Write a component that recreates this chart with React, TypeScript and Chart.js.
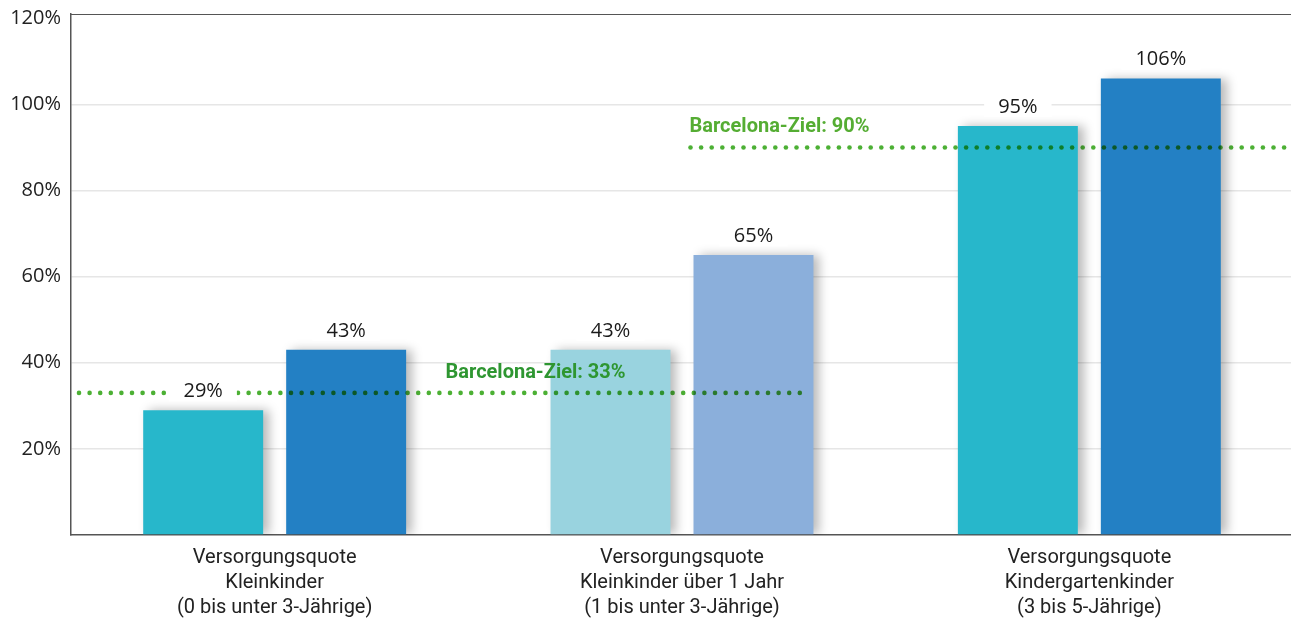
import { useEffect, useRef } from 'react';
import { Chart, registerables } from 'chart.js';
Chart.register(...registerables);

const categories = [
  ['Versorgungsquote', 'Kleinkinder', '(0 bis unter 3-Jährige)'],
  ['Versorgungsquote', 'Kleinkinder über 1 Jahr', '(1 bis unter 3-Jährige)'],
  ['Versorgungsquote', 'Kindergartenkinder', '(3 bis 5-Jährige)'],
];
const seriesA = [29, 43, 95];
const seriesB = [43, 65, 106];
const seriesAColors = ['#27b7cb', '#99d3df', '#27b7cb'];
const seriesBColors = ['#2380c4', '#8bafdb', '#2380c4'];
const yTickValues = [0, 20, 40, 60, 80, 100, 120];
const targets = [33, 90];
const targetLabels = ['Barcelona-Ziel: 33%', 'Barcelona-Ziel: 90%'];
const targetColors = ['#2e9631', '#55ad33'];

const NUM_FONT = '"Open Sans", sans-serif';
const CAT_FONT = 'Roboto, sans-serif';

function drawDots(ctx: CanvasRenderingContext2D, x0: number, x1: number, y: number) {
  ctx.save();
  ctx.globalCompositeOperation = 'multiply';
  ctx.fillStyle = '#4cb034';
  for (let x = x0; x <= x1; x += 10.6) {
    ctx.beginPath();
    ctx.arc(x, y, 2.3, 0, Math.PI * 2);
    ctx.fill();
  }
  ctx.restore();
}

const shadowPlugin = {
  id: 'barShadow',
  beforeDatasetsDraw(chart: any) {
    const ctx = chart.ctx;
    ctx.save();
    ctx.shadowColor = 'rgba(0,0,0,0.28)';
    ctx.shadowBlur = 10;
    ctx.shadowOffsetX = 6;
    ctx.shadowOffsetY = 0;
  },
  afterDatasetsDraw(chart: any) {
    chart.ctx.restore();
  },
};

const overlayPlugin = {
  id: 'overlay',
  afterDraw(chart: any) {
    const ctx: CanvasRenderingContext2D = chart.ctx;
    const y = chart.scales.y;
    const area = chart.chartArea;

    // top frame line
    ctx.save();
    ctx.strokeStyle = '#555555';
    ctx.lineWidth = 1.2;
    ctx.beginPath();
    ctx.moveTo(area.left, area.top + 0.5);
    ctx.lineTo(area.right, area.top + 0.5);
    ctx.stroke();
    ctx.restore();

    const metaA = chart.getDatasetMeta(0);
    const metaB = chart.getDatasetMeta(1);
    const refBar = metaB.data[1];
    const refLeft = refBar.x - refBar.width / 2;
    const refRight = refBar.x + refBar.width / 2;
    const y33 = y.getPixelForValue(targets[0]);
    const y90 = y.getPixelForValue(targets[1]);
    drawDots(ctx, area.left + 8, refRight - 6, y33);
    drawDots(ctx, refLeft - 3, 1286, y90);

    ctx.save();
    ctx.font = `20px ${NUM_FONT}`;
    ctx.textAlign = 'center';
    ctx.textBaseline = 'middle';
    const metas = [
      [metaA, seriesA],
      [metaB, seriesB],
    ];
    metas.forEach(([meta, vals]: any) => {
      meta.data.forEach((bar: any, i: number) => {
        const txt = vals[i] + '%';
        const ty = bar.y - 19;
        const w = ctx.measureText(txt).width;
        ctx.fillStyle = '#ffffff';
        ctx.fillRect(bar.x - w / 2 - 14, ty - 10, w + 28, 20);
        ctx.fillStyle = '#1a1a1a';
        ctx.fillText(txt, bar.x, ty);
      });
    });
    ctx.restore();

    ctx.save();
    ctx.font = `bold 20px ${CAT_FONT}`;
    ctx.textAlign = 'left';
    ctx.textBaseline = 'middle';
    const a0 = metaA.data[1];
    ctx.fillStyle = targetColors[0];
    ctx.fillText(targetLabels[0], a0.x - a0.width / 2 - 105, y33 - 20);
    ctx.fillStyle = targetColors[1];
    ctx.fillText(targetLabels[1], refLeft - 4, y90 - 20);
    ctx.restore();
  },
};

export default function App() {
  const ref = useRef<HTMLCanvasElement>(null);
  useEffect(() => {
    if (!ref.current) return;
    const chart = new Chart(ref.current, {
      type: 'bar',
      data: {
        labels: categories,
        datasets: [
          { data: seriesA, backgroundColor: seriesAColors, categoryPercentage: 0.702, barPercentage: 0.839 },
          { data: seriesB, backgroundColor: seriesBColors, categoryPercentage: 0.702, barPercentage: 0.839 },
        ],
      },
      options: {
        animation: false,
        responsive: true,
        maintainAspectRatio: false,
        layout: { padding: { left: 0, top: 14, right: 0, bottom: 0 } },
        plugins: { legend: { display: false }, tooltip: { enabled: false } },
        scales: {
          x: {
            grid: { display: false, drawTicks: false },
            border: { display: true, color: '#555555', width: 1.5 },
            ticks: { color: '#222222', font: { family: CAT_FONT, size: 20, lineHeight: 1.23 }, padding: 11, maxRotation: 0 },
            afterFit: (s: any) => { s.height = 84; s.paddingLeft = 0; s.paddingRight = 0; },
          },
          y: {
            min: 0,
            max: 121,
            afterBuildTicks: (s: any) => { s.ticks = yTickValues.map((v) => ({ value: v })); },
            ticks: {
              color: '#222222',
              padding: 10,
              font: { family: NUM_FONT, size: 20 },
              callback: (v: any) => (v === 0 ? '' : v + '%'),
            },
            grid: {
              drawTicks: false,
              color: (c: any) => (c.tick && (c.tick.value === 120 || c.tick.value === 0) ? 'rgba(0,0,0,0)' : '#e6e6e6'),
              lineWidth: 1.5,
            },
            border: { display: true, color: '#555555', width: 1.5 },
            afterFit: (s: any) => { s.width = 71; s.paddingTop = 0; s.paddingBottom = 0; },
          },
        },
      },
      plugins: [shadowPlugin, overlayPlugin],
    });
    return () => chart.destroy();
  }, []);
  return (
    <div style={{ position: 'fixed', left: 0, top: 0, width: 1291, height: 619, overflow: 'hidden', background: '#fff' }}>
      <div style={{ position: 'absolute', left: 0, top: 0, width: 1293, height: 619 }}>
        <canvas ref={ref} />
      </div>
    </div>
  );
}
